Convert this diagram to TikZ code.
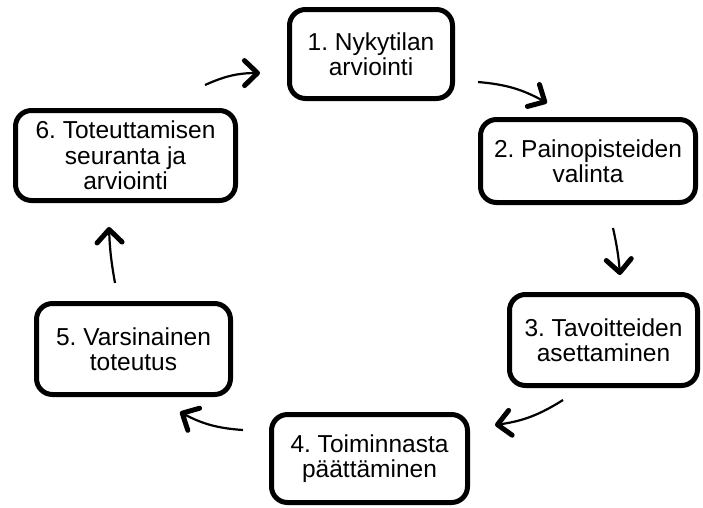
\documentclass[tikz,border=0pt]{standalone}
\usepackage{fontspec}
\setmainfont{Liberation Sans}
\usetikzlibrary{arrows.meta}
\frenchspacing

\begin{document}
\begin{tikzpicture}[
  x=1pt, y=-1pt,
  >={Straight Barb[length=13pt, width=25pt, line width=5pt, round]},
  every node/.style={font=\fontsize{24.5}{25.5}\selectfont},
  stage/.style={draw, line width=5pt, rounded corners=16pt,
    align=center, inner sep=0pt},
  arr/.style={->, line width=2.2pt, bend left=12},
]
\useasboundingbox (0,0) rectangle (703,507);

% === stages of the cycle ===
\node[stage, minimum width=163pt, minimum height=89pt] (n1) at (371,54) {1. Nykytilan\\arviointi};
\node[stage, minimum width=215pt, minimum height=83pt] (n2) at (588,161) {2. Painopisteiden\\valinta};
\node[stage, minimum width=188pt, minimum height=91pt] (n3) at (603.5,340) {3. Tavoitteiden\\asettaminen};
\node[stage, minimum width=196pt, minimum height=88pt] (n4) at (369.5,458.5) {4. Toiminnasta\\päättäminen};
\node[stage, minimum width=194pt, minimum height=91pt] (n5) at (133.5,349) {5. Varsinainen\\toteutus};
\node[stage, minimum width=220pt, minimum height=90pt] (n6) at (125.5,155.5) {6. Toteuttamisen\\seuranta ja\\arviointi};

% === arrow ends (free, between the boxes) ===
\coordinate (a61) at (205,85);  \coordinate (b61) at (260,73);
\coordinate (a12) at (478,82);  \coordinate (b12) at (547,103);
\coordinate (a23) at (613,228); \coordinate (b23) at (620,275);
\coordinate (a34) at (563,400); \coordinate (b34) at (495,425);
\coordinate (a45) at (243,430); \coordinate (b45) at (180,412);
\coordinate (a56) at (115,283); \coordinate (b56) at (109,227);

\draw[arr] (a61) to (b61);
\draw[arr] (a12) to (b12);
\draw[arr, bend left=4] (a23) to (b23);
\draw[arr] (a34) to (b34);
\draw[arr] (a45) to (b45);
\draw[arr, bend left=4] (a56) to (b56);

\end{tikzpicture}
\end{document}
